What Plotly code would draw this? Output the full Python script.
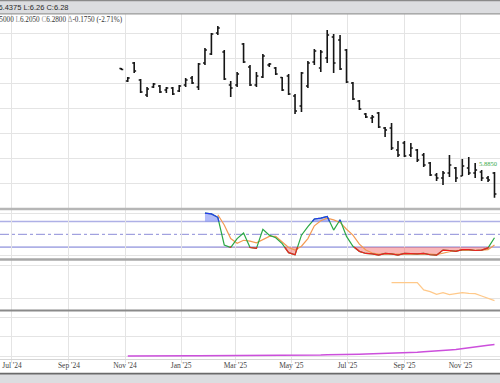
import numpy as np
import pandas as pd
import plotly.graph_objects as go

# ---------------- data ----------------
dates = pd.date_range("2024-10-28", periods=59, freq="7D")

opens = [8.79, 8.54, 8.90, 8.56, 8.26, 8.42, 8.44, 8.36, 8.40, 8.34,
         8.46, 8.60, 8.42, 8.90, 9.08, 9.50, 9.12, 8.46, 8.46, 9.28,
         8.82, 8.46, 8.62, 8.86, 8.80, 8.61, 8.64, 8.24, 8.04, 8.44,
         8.92, 8.80, 9.00, 9.42, 9.36, 9.16, 8.50, 8.14, 7.88, 7.80,
         7.90, 7.60, 7.60, 7.16, 7.30, 7.06, 7.16, 7.06, 6.90, 6.66,
         6.60, 6.70, 6.80, 6.64, 6.80, 6.70, 6.72, 6.60, 6.70]
highs = [8.80, 8.62, 8.92, 8.58, 8.42, 8.50, 8.46, 8.42, 8.42, 8.46,
         8.60, 8.64, 8.90, 9.20, 9.50, 9.64, 9.16, 8.54, 8.72, 9.30,
         8.86, 8.72, 9.08, 8.90, 8.82, 8.62, 8.68, 8.28, 8.72, 8.94,
         9.18, 9.16, 9.56, 9.48, 9.46, 9.18, 8.52, 8.16, 7.90, 7.86,
         7.92, 7.62, 7.70, 7.34, 7.34, 7.30, 7.18, 7.10, 6.92, 6.70,
         6.74, 7.06, 6.82, 6.98, 7.02, 6.90, 6.76, 6.64, 6.72]
lows = [8.76, 8.52, 8.70, 8.30, 8.22, 8.40, 8.30, 8.30, 8.26, 8.32,
        8.42, 8.48, 8.36, 8.86, 9.06, 9.46, 8.56, 8.22, 8.42, 8.90,
        8.44, 8.42, 8.60, 8.82, 8.66, 8.34, 8.26, 7.88, 7.92, 8.40,
        8.86, 8.72, 8.90, 8.70, 8.76, 8.50, 8.16, 7.96, 7.80, 7.70,
        7.60, 7.42, 7.16, 7.02, 7.02, 7.02, 6.92, 6.82, 6.64, 6.54,
        6.46, 6.62, 6.52, 6.64, 6.66, 6.60, 6.54, 6.52, 6.205]
closes = [8.77, 8.60, 8.74, 8.32, 8.38, 8.48, 8.32, 8.40, 8.28, 8.44,
          8.56, 8.50, 8.88, 9.16, 9.48, 9.60, 8.58, 8.40, 8.68, 8.92,
          8.46, 8.64, 9.04, 8.88, 8.68, 8.36, 8.28, 7.94, 8.70, 8.90,
          9.14, 9.12, 9.46, 8.90, 8.78, 8.52, 8.18, 7.98, 7.82, 7.82,
          7.62, 7.56, 7.20, 7.06, 7.04, 7.20, 6.96, 6.86, 6.66, 6.60,
          6.70, 6.86, 6.60, 6.84, 6.70, 6.76, 6.60, 6.56, 6.28]

# stochastic %K (from bar 13) and %D (from bar 15)
stoch_k = [100, 98, 90, 25, 19, 40, 53, 19, 17, 62,
           48, 42, 28, 7, 2, 48, 68, 86, 88, 92,
           60, 84, 45, 22, 10, 5, 4, 1, 5, 4,
           1, 5, 4, 4, 5, 2, 1, 13, 12, 10,
           14, 14, 12, 13, 18, 42]
stoch_d = [96, 72, 40, 29, 36, 34, 30, 37, 45, 45,
           31, 19, 13, 22, 40, 70, 82, 88, 84, 78,
           62, 48, 27, 13, 6, 3.5, 3.5, 3.5, 3.5, 3.5,
           4, 4, 4.5, 3.5, 2.5, 5, 9, 12, 12, 13,
           13, 13, 14, 25]

# third panel series (from bar 42)
orange_vals = [24.7, 24.7, 24.7, 24.7, 24.7, 22.5, 22.0, 21.2, 21.7,
               21.1, 21.3, 21.7, 21.5, 21.4, 20.7, 20.0, 19.3]

# fourth panel series (from bar 1)
purple_vals = [0.5, 1, 1, 1, 1, 1, 1, 1, 1, 1,
               1.5, 1.5, 1.5, 1.5, 1.5, 1.5, 1.5, 1.5, 1.5, 1.5,
               2.5, 2.5, 2.5, 2.5, 2.5, 2.5, 2.5, 3.7, 4, 5,
               5, 6, 6, 7, 7, 8, 9, 10, 11, 12,
               13, 14, 16, 17, 19, 20, 23, 26, 29, 31,
               32, 34, 39, 43, 49, 54, 56, 60]

tick_vals = ["2024-07-01", "2024-09-01", "2024-11-01", "2025-01-01", "2025-03-01",
             "2025-05-01", "2025-07-01", "2025-09-01", "2025-11-01"]
tick_text = ["Jul '24", "Sep '24", "Nov '24", "Jan '25", "Mar '25",
             "May '25", "Jul '25", "Sep '25", "Nov '25"]

header_text = "O:6.4375 H:6.4375 L:6.26 C:6.28"
last_price_label = "5.8850"

# ---------------- helpers ----------------
W, H = 500, 383
T, B = 14, 10          # header / footer bands (figure margins)


def py(px):
    """pixel row from top -> paper fraction of the plot area"""
    return 1 - (px - T) / (H - T - B)


def with_crossings(xs, ys, thr):
    xm = np.asarray(pd.to_datetime(xs).astype("int64") // 10**6, dtype=float)
    ys = np.asarray(ys, dtype=float)
    ox, oy = [xm[0]], [ys[0]]
    for j in range(1, len(ys)):
        y0, y1 = ys[j - 1], ys[j]
        if (y0 - thr) * (y1 - thr) < 0:
            t = (thr - y0) / (y1 - y0)
            ox.append(xm[j - 1] + t * (xm[j] - xm[j - 1]))
            oy.append(thr)
        ox.append(xm[j])
        oy.append(y1)
    return pd.to_datetime(np.array(ox), unit="ms"), np.array(oy)


k_dates = dates[13:]
d_dates = dates[15:]
kx, ky = with_crossings(k_dates, stoch_k, 80)
kx, ky = with_crossings(kx, ky, 20)
upper = np.maximum(ky, 80)
lower = np.minimum(ky, 20)
blue_seg = [v if v >= 80 else None for v in ky]
red_seg = [v if v <= 20 else None for v in ky]

fig = go.Figure()

# main OHLC
fig.add_trace(go.Ohlc(x=dates, open=opens, high=highs, low=lows, close=closes,
                      increasing_line_color="#151515", decreasing_line_color="#151515",
                      line_width=1.6, tickwidth=0.3, xaxis="x", yaxis="y",
                      showlegend=False, hoverinfo="skip"))

# stochastic fills
fig.add_trace(go.Scatter(x=kx, y=[80] * len(kx), mode="lines", line=dict(width=0),
                         xaxis="x2", yaxis="y2", showlegend=False, hoverinfo="skip"))
fig.add_trace(go.Scatter(x=kx, y=upper, mode="lines", line=dict(width=0), fill="tonexty",
                         fillcolor="rgba(95,115,245,0.48)",
                         xaxis="x2", yaxis="y2", showlegend=False, hoverinfo="skip"))
fig.add_trace(go.Scatter(x=kx, y=[20] * len(kx), mode="lines", line=dict(width=0),
                         xaxis="x2", yaxis="y2", showlegend=False, hoverinfo="skip"))
fig.add_trace(go.Scatter(x=kx, y=lower, mode="lines", line=dict(width=0), fill="tonexty",
                         fillcolor="rgba(245,95,95,0.45)",
                         xaxis="x2", yaxis="y2", showlegend=False, hoverinfo="skip"))
# %D
fig.add_trace(go.Scatter(x=d_dates, y=stoch_d, mode="lines", line=dict(color="#f39a52", width=1.2),
                         xaxis="x2", yaxis="y2", showlegend=False, hoverinfo="skip"))
# %K
fig.add_trace(go.Scatter(x=kx, y=ky, mode="lines", line=dict(color="#2aa845", width=1.2),
                         xaxis="x2", yaxis="y2", showlegend=False, hoverinfo="skip"))
fig.add_trace(go.Scatter(x=kx, y=blue_seg, mode="lines", line=dict(color="#2538f0", width=1.2),
                         connectgaps=False, xaxis="x2", yaxis="y2", showlegend=False, hoverinfo="skip"))
fig.add_trace(go.Scatter(x=kx, y=red_seg, mode="lines", line=dict(color="#f02020", width=1.2),
                         connectgaps=False, xaxis="x2", yaxis="y2", showlegend=False, hoverinfo="skip"))

# third panel
fig.add_trace(go.Scatter(x=dates[42:], y=orange_vals, mode="lines",
                         line=dict(color="#ffc98a", width=1.3),
                         xaxis="x3", yaxis="y3", showlegend=False, hoverinfo="skip"))
# fourth panel
fig.add_trace(go.Scatter(x=dates[1:], y=purple_vals, mode="lines",
                         line=dict(color="#cc4fdc", width=1.5),
                         xaxis="x4", yaxis="y4", showlegend=False, hoverinfo="skip"))

grid = "#e4e4e4"
xcommon = dict(type="date", range=["2024-06-18", "2025-12-14"], tickvals=tick_vals,
               ticktext=tick_text, showgrid=True, gridcolor=grid, gridwidth=1,
               zeroline=False, showline=False, fixedrange=True)

fig.update_layout(
    width=W, height=H,
    margin=dict(l=0, r=0, t=T, b=B, autoexpand=False),
    paper_bgcolor="#dcdde0", plot_bgcolor="white",
    showlegend=False,
    hovermode=False,
    xaxis=dict(**xcommon, anchor="y", showticklabels=False, rangeslider=dict(visible=False)),
    xaxis2=dict(**xcommon, anchor="y2", matches="x", showticklabels=False),
    xaxis3=dict(**xcommon, anchor="y3", matches="x", showticklabels=False),
    xaxis4=dict(**xcommon, anchor="y4", matches="x", showticklabels=True,
                ticks="outside", ticklen=3, tickcolor=grid, automargin=False,
                ticklabelstandoff=-4,
                tickfont=dict(family="Liberation Serif", size=7.5, color="#444")),
    yaxis=dict(domain=[py(208), py(14)], range=[6.0, 9.88], dtick=0.5, tick0=6.0,
               showticklabels=False, gridcolor=grid, zeroline=False, fixedrange=True),
    yaxis2=dict(domain=[py(259), py(209)], range=[-8.0, 109.5], tickvals=[0, 100],
                showticklabels=False, gridcolor=grid, zeroline=False, fixedrange=True),
    yaxis3=dict(domain=[py(310), py(259)], range=[16.5, 31.8], tickvals=[20, 30],
                showticklabels=False, gridcolor=grid, zeroline=False, fixedrange=True),
    yaxis4=dict(domain=[py(359), py(310)], range=[-15.8, 242], tickvals=[0, 100, 200],
                showticklabels=False, gridcolor=grid, zeroline=False, fixedrange=True),
)

shapes = []
# white strip between the bottom axis and the footer band (tick label row)
shapes.append(dict(type="rect", xref="paper", yref="paper", x0=0, x1=1, y0=py(373), y1=py(359),
                   fillcolor="white", line=dict(width=0), layer="below"))
# stochastic levels
for lvl in (80, 20):
    shapes.append(dict(type="line", xref="paper", yref="y2", x0=0, x1=1, y0=lvl, y1=lvl,
                       line=dict(color="#aeb0e6", width=1.6), layer="between"))
shapes.append(dict(type="line", xref="paper", yref="y2", x0=0, x1=1, y0=50, y1=50,
                   line=dict(color="#8c8cd8", width=1, dash="dashdot"), layer="between"))
# panel separators
for ypx, col, wd in ((209, "#b6b6b6", 2.4), (259.5, "#a8a8a8", 2.4), (310.5, "#8a8a8a", 1.8)):
    shapes.append(dict(type="line", xref="paper", yref="paper", x0=0, x1=1,
                       y0=py(ypx), y1=py(ypx), line=dict(color=col, width=wd), layer="above"))
# bottom axis line
shapes.append(dict(type="line", xref="paper", yref="paper", x0=0, x1=1,
                   y0=py(359.5), y1=py(359.5), line=dict(color="#d6d6d6", width=1), layer="above"))
# header / footer borders
shapes.append(dict(type="line", xref="paper", yref="paper", x0=0, x1=1, y0=py(0.6), y1=py(0.6),
                   line=dict(color="#8a8a8a", width=1.2), layer="above"))
shapes.append(dict(type="line", xref="paper", yref="paper", x0=0, x1=1, y0=py(13.8), y1=py(13.8),
                   line=dict(color="#9a9a9a", width=1.2), layer="above"))
shapes.append(dict(type="line", xref="paper", yref="paper", x0=0, x1=1, y0=py(373.6), y1=py(373.6),
                   line=dict(color="#6a6a6a", width=1.6), layer="above"))
fig.update_layout(shapes=shapes)

g = "#9a9a9a"
sub_text = (f"<span style='color:{g}'>O</span>6.4375 <span style='color:{g}'>H</span>6.5000 "
            f"<span style='color:{g}'>L</span>6.2050 <span style='color:{g}'>C</span>6.2800 "
            f"<span style='color:{g}'>Δ</span>-0.1750 (-2.71%)")

annotations = [
    dict(xref="paper", yref="paper", x=71 / W, y=py(7), xanchor="right", yanchor="middle",
         text=header_text, showarrow=False,
         font=dict(family="Liberation Sans", size=7.5, color="#2a2a2a")),
    dict(xref="paper", yref="paper", x=125 / W, y=py(20.5), xanchor="right", yanchor="middle",
         text=sub_text, showarrow=False,
         font=dict(family="Liberation Serif", size=7.2, color="#333")),
    dict(xref="x", yref="y", x=dates[57], y=highs[57], xanchor="center", yanchor="bottom",
         yshift=7, text=last_price_label, showarrow=False,
         font=dict(family="Liberation Serif", size=6.5, color="#34a846")),
]
fig.update_layout(annotations=annotations)

fig.write_html("out.html", config={"displayModeBar": False, "staticPlot": True},
               post_script="document.body.style.margin='0';document.body.style.overflow='hidden';")
